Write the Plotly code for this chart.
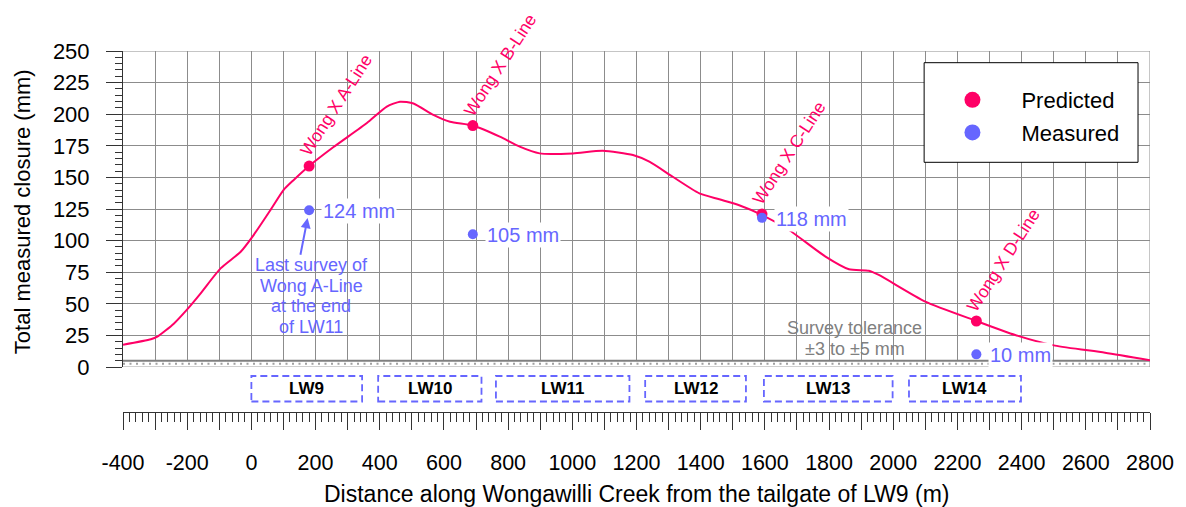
import plotly.graph_objects as go

# ---------------- data ----------------
dist = [-400, -313, -293, -241, -200, -158, -96, -34, 7, 59, 100, 132, 180, 256, 360, 422,
        463, 505, 567, 619, 690, 774, 836, 898, 1002, 1095, 1189, 1240, 1313, 1396, 1458,
        1520, 1592, 1675, 1789, 1862, 1924, 1955, 2100, 2259, 2380, 2504, 2660, 2800]
closure = [17.6, 21.9, 24, 34.5, 45.6, 58.3, 78, 91, 104.4, 124, 140, 148, 159, 174, 193, 206,
           209.9, 208.5, 199.4, 194, 191, 182.2, 174.3, 169, 169, 171, 167.7, 162.4, 150.5, 137.4, 132.7,
           128, 120.2, 108.4, 87.3, 77.3, 76.2, 72.8, 51.7, 36.4, 25.3, 16.9, 11.3, 5.3]

wong_lines = ["Wong X A-Line", "Wong X B-Line", "Wong X C-Line", "Wong X D-Line"]
wong_x = [180, 690, 1591, 2259]
predicted = [159, 191, 121, 36.4]
measured = [124, 105, 118, 10]

panels = ["LW9", "LW10", "LW11", "LW12", "LW13", "LW14"]
panel_start = [0, 395, 762, 1227, 1597, 2049]
panel_end = [345, 717, 1178, 1541, 1998, 2398]

x_ticks = list(range(-400, 2801, 100))
x_labels = [str(v) if v % 200 == 0 else "" for v in x_ticks]
tolerance = 5

note_lines = ["Last survey of", "Wong A-Line", "at the end", "of LW11"]
tol_lines = ["Survey tolerance", "±3 to ±5 mm"]

# ---------------- style ----------------
W, H = 1186, 507
L, R, T, B = 123, 34, 51, 95
PH = H - T - B
PW = W - L - R
def py(p):
    return (H - B - p) / PH
def px(p):
    return (p - L) / PW

FONT = "Liberation Sans, Arial, sans-serif"
PINK = "#FF0066"
BLUE = "#6666FF"
GRID = "#8c8c8c"
AX = "#333333"

fig = go.Figure()
fig.add_trace(go.Scatter(x=dist, y=closure, mode="lines",
                         line=dict(color=PINK, width=2, shape="spline", smoothing=0.6),
                         showlegend=False, hoverinfo="skip"))
fig.add_trace(go.Scatter(x=wong_x, y=predicted, mode="markers",
                         marker=dict(color=PINK, size=11), showlegend=False))
fig.add_trace(go.Scatter(x=wong_x, y=measured, mode="markers",
                         marker=dict(color=BLUE, size=10), showlegend=False))
fig.add_trace(go.Scatter(x=[None], y=[None], mode="markers", name="Predicted",
                         marker=dict(color=PINK, size=17), xaxis="x2", legendgroup="a"))
fig.add_trace(go.Scatter(x=[None], y=[None], mode="markers", name="Measured",
                         marker=dict(color=BLUE, size=17), xaxis="x2", legendgroup="b"))

shapes = []
# tolerance band
shapes.append(dict(type="rect", xref="x", yref="y", x0=-400, x1=2800, y0=0, y1=tolerance,
                   fillcolor="white", line=dict(width=0), layer="between"))
shapes.append(dict(type="line", xref="x", yref="y", x0=-400, x1=2800, y0=tolerance, y1=tolerance,
                   line=dict(color="#808080", width=2), layer="between"))
shapes.append(dict(type="line", xref="x", yref="y", x0=-400, x1=2800, y0=tolerance / 2, y1=tolerance / 2,
                   line=dict(color="#a0a0a0", width=2, dash="2px,4.5px"), layer="between"))
shapes.append(dict(type="line", xref="x", yref="y", x0=-400, x1=2800, y0=0, y1=0,
                   line=dict(color="#a0a0a0", width=1), layer="between"))
# border top/right
shapes.append(dict(type="line", xref="paper", yref="y", x0=0, x1=1, y0=250, y1=250,
                   line=dict(color=GRID, width=1), layer="between"))
shapes.append(dict(type="line", xref="x", yref="y", x0=2800, x1=2800, y0=0, y1=250,
                   line=dict(color=GRID, width=1), layer="between"))
# LW panels
for s, e in zip(panel_start, panel_end):
    shapes.append(dict(type="rect", xref="x", yref="paper", x0=s, x1=e, y0=py(401.5), y1=py(376),
                       line=dict(color=BLUE, width=1.8, dash="7px,4px"), fillcolor="rgba(0,0,0,0)"))
# legend box
shapes.append(dict(type="rect", xref="paper", yref="paper", x0=px(925.7), x1=px(1140),
                   y0=py(162.3), y1=py(62.7), line=dict(color="black", width=1), fillcolor="white"))

ann = []
for name, xv, yv in zip(wong_lines, wong_x, predicted):
    ann.append(dict(x=xv, y=yv, xref="x", yref="y", text=name, showarrow=False, textangle=-57,
                    xshift=27, yshift=61, font=dict(size=17.5, color=PINK, family=FONT)))
for xv, yv in zip(wong_x, measured):
    ann.append(dict(x=xv, y=yv, xref="x", yref="y", text=f"{yv} mm", showarrow=False,
                    xanchor="left", yanchor="middle", xshift=12, yshift=-1, bgcolor="white", borderpad=1,
                    font=dict(size=20, color=BLUE, family=FONT)))
# arrow
ann.append(dict(x=wong_x[0], y=measured[0], xref="x", yref="y", text="", showarrow=True,
                ax=-9, ay=46, arrowhead=2, arrowsize=1, arrowwidth=2, arrowcolor=BLUE, standoff=8))
for i, t in enumerate(note_lines):
    ann.append(dict(x=wong_x[0], y=measured[0], xref="x", yref="y", text=t, showarrow=False,
                    xshift=2, yshift=-(54.7 + 20.7 * i), font=dict(size=18, color=BLUE, family=FONT)))
for i, t in enumerate(tol_lines):
    ann.append(dict(x=1880, y=30.6 - 16.6 * i, xref="x", yref="y", text=t, showarrow=False,
                    font=dict(size=18, color="#808080", family=FONT)))
for name, s, e in zip(panels, panel_start, panel_end):
    ann.append(dict(x=(s + e) / 2, y=py(388.7), xref="x", yref="paper", text=f"<b>{name}</b>",
                    showarrow=False, yanchor="middle", font=dict(size=17, color="black", family=FONT)))
ann.append(dict(x=0.5, y=py(494), xref="paper", yref="paper", showarrow=False, yanchor="middle",
                text="Distance along Wongawilli Creek from the tailgate of LW9 (m)",
                font=dict(size=23, color="black", family=FONT)))
ann.append(dict(x=px(22), y=py(212), xref="paper", yref="paper", showarrow=False, textangle=-90,
                xanchor="center", yanchor="middle", text="Total measured closure (mm)",
                font=dict(size=22, color="black", family=FONT)))

fig.update_layout(
    width=W, height=H, margin=dict(l=L, r=R, t=T, b=B, pad=0),
    paper_bgcolor="white", plot_bgcolor="white",
    font=dict(family=FONT, color="black"),
    xaxis=dict(range=[-400, 2800], showgrid=True, gridcolor=GRID, gridwidth=1, dtick=100, tick0=0,
               showticklabels=False, ticks="", zeroline=False, showline=False),
    xaxis2=dict(range=[-400, 2800], overlaying="x", anchor="free", position=0,
                tickmode="array", tickvals=x_ticks, ticktext=x_labels, ticks="outside", ticklen=17,
                tickcolor=AX, showline=True, linecolor=AX, showgrid=False, zeroline=False,
                minor=dict(dtick=20, tick0=0, ticklen=9, ticks="outside", tickcolor=AX, showgrid=False),
                tickfont=dict(size=21.5, family=FONT, color="black"), ticklabelstandoff=14),
    yaxis=dict(range=[0, 250], domain=[py(367), 1], dtick=25, tick0=0, showgrid=True, gridcolor=GRID,
               gridwidth=1, ticks="outside", ticklen=16, tickcolor=AX, showline=True, linecolor=AX,
               zeroline=False,
               minor=dict(dtick=5, tick0=0, ticklen=7, ticks="outside", tickcolor=AX, showgrid=False),
               tickfont=dict(size=22, family=FONT, color="black"), ticklabelstandoff=12),
    legend=dict(x=px(925), y=py(79), xanchor="left", yanchor="top", bgcolor="rgba(0,0,0,0)",
                borderwidth=0, font=dict(size=22, family=FONT, color="black"), itemwidth=88,
                traceorder="grouped", tracegroupgap=1),
    shapes=shapes, annotations=ann,
)

fig.write_html("out.html")
